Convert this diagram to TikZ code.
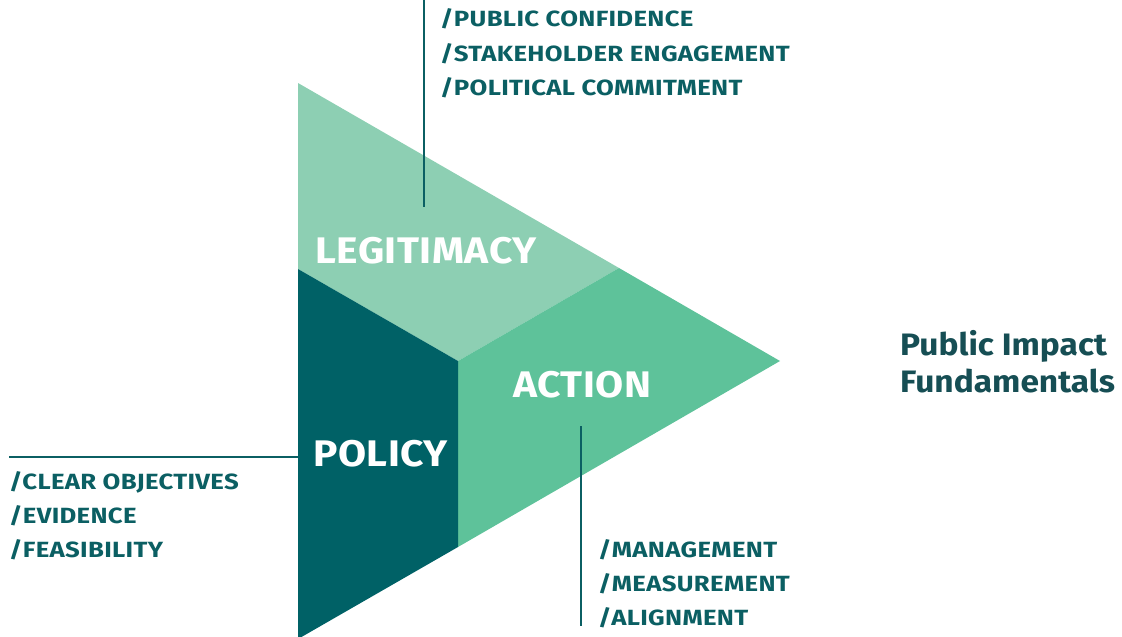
\documentclass[tikz,border=0pt]{standalone}
\usepackage{fontspec}
\setmainfont{Fira Sans}
\newfontfamily\itemfont[FakeStretch=1.17,LetterSpace=1.5]{Fira Sans}
\newfontfamily\bigfont[FakeStretch=1.1,LetterSpace=1.5]{Fira Sans}
\newfontfamily\titlefont[FakeStretch=1.08]{Fira Sans}
\definecolor{legit}{HTML}{8DCFB3}
\definecolor{actioncol}{HTML}{5EC29A}
\definecolor{policycol}{HTML}{006166}
\definecolor{txt}{HTML}{0B5F63}
\definecolor{titlecol}{HTML}{164E54}
\begin{document}
\begin{tikzpicture}[x=1pt,y=-1pt,
  item/.style={anchor=base west,inner sep=0pt,text=txt,font=\itemfont\bfseries\fontsize{22}{22}\selectfont},
  big/.style={anchor=base west,inner sep=0pt,text=white,font=\bigfont\bfseries\fontsize{37}{37}\selectfont},
  ttl/.style={anchor=base west,inner sep=0pt,text=titlecol,font=\titlefont\bfseries\fontsize{31}{31}\selectfont},
  leader/.style={draw=txt,line width=2pt}]
\useasboundingbox (0,0) rectangle (1122,637);
\begin{scope}
\clip (0,0) rectangle (1122,637);
\coordinate (T) at (298,83);
\coordinate (A) at (780,361);
\coordinate (B) at (298,639);
\coordinate (C) at (458,361);
\coordinate (L) at (298,269);
\coordinate (R) at (619,268);
\coordinate (D) at (458,547);
\fill[legit] (T) -- (R) -- (C) -- (L) -- cycle;
\fill[actioncol] (C) -- (R) -- (A) -- (D) -- cycle;
\fill[policycol] (L) -- (C) -- (D) -- (B) -- cycle;
\end{scope}
% leaders
\coordinate (lt) at (424,0);
\coordinate (lb) at (424,207);
\draw[leader] (lt) -- (lb);
\coordinate (pl) at (9,457);
\coordinate (pr) at (298,457);
\draw[leader] (pl) -- (pr);
\coordinate (at) at (581,426);
\coordinate (ab) at (581,626);
\draw[leader] (at) -- (ab);
% big labels
\node[big] (legitimacy) at (315,263) {LEGITIMACY};
\node[big] (action) at (513,397) {ACTION};
\node[big] (policy) at (313,466) {POLICY};
% lists
\node[item] (t1) at (440,27) {/PUBLIC CONFIDENCE};
\node[item] (t2) at (440,61) {/STAKEHOLDER ENGAGEMENT};
\node[item] (t3) at (440,95) {/POLITICAL COMMITMENT};
\node[item] (p1) at (9,489) {/CLEAR OBJECTIVES};
\node[item] (p2) at (9,523) {/EVIDENCE};
\node[item] (p3) at (9,557) {/FEASIBILITY};
\node[item] (a1) at (598,557) {/MANAGEMENT};
\node[item] (a2) at (598,591) {/MEASUREMENT};
\node[item] (a3) at (598,625) {/ALIGNMENT};
% title
\node[ttl] (title1) at (900,355) {Public Impact};
\node[ttl] (title2) at (900,392) {Fundamentals};
\end{tikzpicture}
\end{document}
